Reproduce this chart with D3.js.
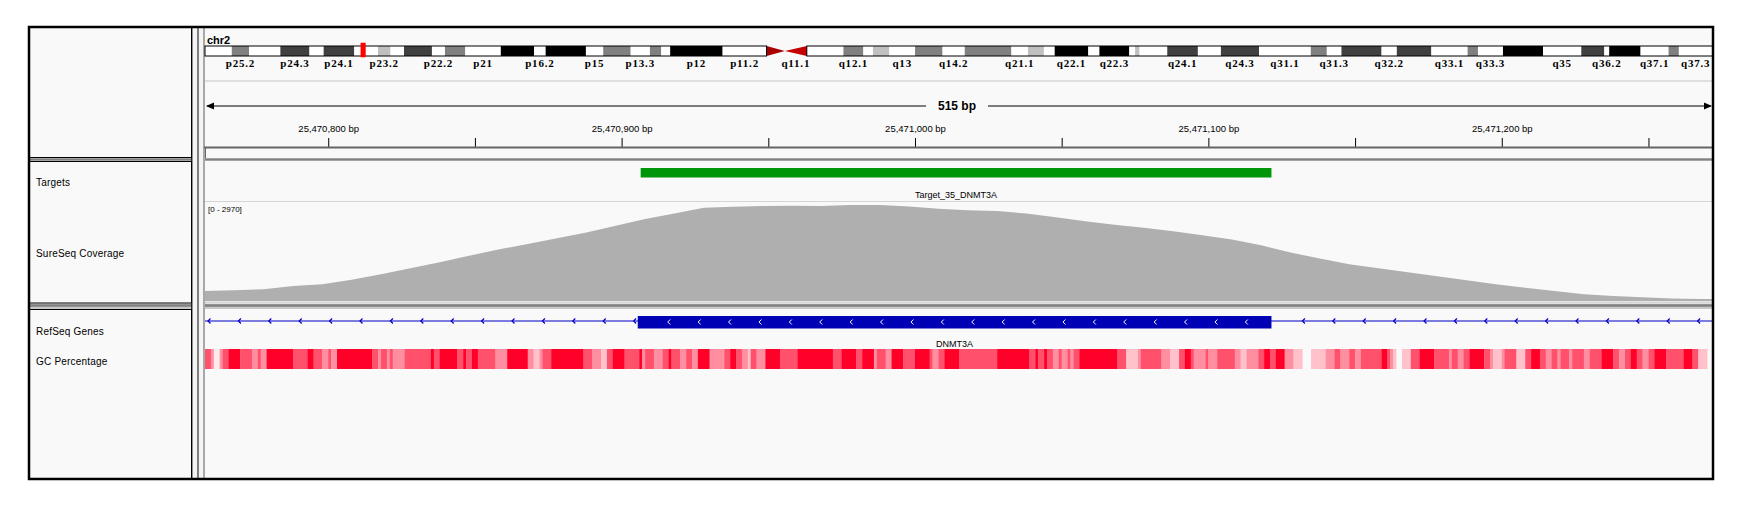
<!DOCTYPE html>
<html>
<head>
<meta charset="utf-8">
<script src="https://cdn.jsdelivr.net/npm/d3@7"></script>
<style>
body { margin: 0; background: #fff; }
text { font-family: "Liberation Sans", Arial, sans-serif; }
</style>
</head>
<body>
<svg id="igv" width="1750" height="514"></svg>
<script>
// ---- data ----
var chromName = "chr2";
var chromLenMb = 243.2;
var bandNames = ["p25.3","p25.2","p25.1","p24.3","p24.2","p24.1","p23.3","p23.2","p23.1","p22.3","p22.2","p22.1","p21","p16.3","p16.2","p16.1","p15","p14","p13.3","p13.2","p13.1","p12","p11.2","p11.1",
                 "q11.1","q11.2","q12.1","q12.2","q12.3","q13","q14.1","q14.2","q14.3","q21.1","q21.2","q21.3","q22.1","q22.2","q22.3","q23.1","q23.2","q23.3","q24.1","q24.2","q24.3","q31.1","q31.2","q31.3",
                 "q32.1","q32.2","q32.3","q33.1","q33.2","q33.3","q34","q35","q36.1","q36.2","q36.3","q37.1","q37.2","q37.3"];
var bandStarts = [0,4.32,7.11,12.16,16.85,19.14,24.08,27.9,29.93,32.1,36.61,38.71,41.98,47.72,53.09,54.95,61.45,64.24,68.67,71.77,73.59,75.04,83.5,90.59,
                  93.54,97.08,102.99,106.2,107.75,110.4,114.54,118.98,122.56,130.09,132.75,135.33,137.07,142.49,144.28,149.1,150.04,150.76,155.23,160.17,163.88,170.04,178.38,180.97,
                  183.33,189.8,192.26,197.83,203.68,205.35,209.38,215.84,222.02,225.73,226.52,231.58,236.1,237.76];
var bandStains = ["gneg","gpos50","gneg","gpos75","gneg","gpos75","gneg","gpos25","gneg","gpos75","gneg","gpos50","gneg","gpos100","gneg","gpos100","gneg","gpos50","gneg","gpos50","gneg","gpos100","gneg","acen",
                  "acen","gneg","gpos50","gneg","gpos25","gneg","gpos50","gneg","gpos50","gneg","gpos25","gneg","gpos100","gneg","gpos100","gneg","gpos25","gneg","gpos75","gneg","gpos75","gneg","gpos50","gneg",
                  "gpos75","gneg","gpos75","gneg","gpos50","gneg","gpos100","gneg","gpos75","gneg","gpos100","gneg","gpos50","gneg"];
var bandLabels = ["p25.2","p24.3","p24.1","p23.2","p22.2","p21","p16.2","p15","p13.3","p12","p11.2","q11.1","q12.1","q13","q14.2","q21.1","q22.1","q22.3",
                  "q24.1","q24.3","q31.1","q31.3","q32.2","q33.1","q33.3","q35","q36.2","q37.1","q37.3"];

var viewStart = 25470758, viewEnd = 25471272;
var spanLabel = "515 bp";
var rulerTicks = [25470800,25470850,25470900,25470950,25471000,25471050,25471100,25471150,25471200,25471250];

var trackNames = ["Targets", "SureSeq Coverage", "RefSeq Genes", "GC Percentage"];
var targetName = "Target_35_DNMT3A", targetStart = 25470906.5, targetEnd = 25471121.5;
var geneName = "DNMT3A", exonStart = 25470905.5, exonEnd = 25471121.5;

var covMax = 2970;
var covStep = 10;
var covValues = [303,327,355,455,509,646,812,991,1176,1370,1558,1728,1900,2073,2279,2485,2655,2828,2858,2876,2885,2882,2910,2910,2861,2792,2752,2731,2649,2540,
                 2416,2310,2219,2113,1994,1864,1688,1470,1285,1115,994,870,749,627,509,403,306,203,155,112,79,58];

// [offset from viewStart (bp), GC %], null = no data
var gcSegments = [[0,62],[2,50],[3,32],[5,50],[6,62],[8,78],[12,62],[16,50],[18,62],[19,50],[21,78],[30,62],[35,78],[37,62],[40,50],[42,62],[43,50],[45,78],
  [57,62],[59,50],[60,62],[62,50],[63,62],[64,50],[68,62],[77,78],[78,62],[80,78],[86,62],[88,78],[89,62],[91,78],[93,62],[99,50],[103,78],[110,50],[112,40],
  [114,50],[115,62],[118,78],[129,62],[132,50],[135,40],[137,62],[139,78],[143,62],[148,78],[149,50],[150,62],[153,50],[156,62],[158,78],[159,62],[162,50],
  [164,62],[166,50],[168,78],[172,50],[177,62],[179,78],[181,62],[183,50],[185,40],[186,62],[188,50],[191,78],[196,62],[202,78],[214,62],[217,78],[222,62],
  [224,78],[228,50],[229,62],[232,50],[234,78],[238,62],[242,78],[247,62],[248,50],[250,62],[252,78],[257,62],[270,78],[281,62],[283,78],[284,62],[286,78],
  [287,62],[289,50],[291,62],[292,50],[294,62],[295,50],[296,62],[298,78],[311,62],[314,40],[318,50],[319,62],[326,50],[329,40],[332,62],[334,78],[336,62],
  [337,50],[341,62],[342,50],[345,62],[351,50],[353,40],[355,50],[359,62],[361,78],[363,62],[365,78],[368,50],[371,40],[374,null],[377,40],[382,50],[385,62],
  [387,50],[390,62],[392,50],[394,62],[401,78],[403,62],[404,50],[405,40],[406,null],[408,40],[411,62],[414,78],[419,62],[424,50],[425,62],[427,50],[429,62],
  [431,78],[436,62],[438,50],[439,40],[442,50],[443,62],[447,40],[450,62],[452,78],[455,62],[457,50],[459,62],[461,50],[462,62],[465,50],[466,62],[470,50],
  [472,62],[476,78],[480,62],[482,50],[484,62],[486,78],[488,62],[490,50],[492,62],[494,78],[498,62],[504,78],[507,62],[509,40],[512,null]];

// ---- layout ----
var svg = d3.select("#igv");
var outer = {left: 29, top: 27, right: 1713, bottom: 479},
    nameRight = 192, dataLeft = 205, dataRight = 1713;
var panels = [{top: 27, bottom: 158}, {top: 161, bottom: 303.5}, {top: 309, bottom: 479}];

svg.append("rect").attr("x", outer.left).attr("y", outer.top)
    .attr("width", outer.right - outer.left).attr("height", outer.bottom - outer.top)
    .attr("fill", "#f9f9f9");

// separators between panels
svg.append("rect").attr("x", outer.left).attr("y", 158).attr("width", outer.right - outer.left).attr("height", 3).attr("fill", "#c8c8c8");
svg.append("rect").attr("x", outer.left).attr("y", 303.5).attr("width", outer.right - outer.left).attr("height", 5.5).attr("fill", "#c8c8c8");
svg.append("line").attr("x1", outer.left).attr("x2", outer.right).attr("y1", 159.5).attr("y2", 159.5).attr("stroke", "#808080").attr("stroke-width", 2);
svg.append("line").attr("x1", outer.left).attr("x2", outer.right).attr("y1", 305.5).attr("y2", 305.5).attr("stroke", "#808080").attr("stroke-width", 2.5);
svg.append("line").attr("x1", dataLeft).attr("x2", outer.right).attr("y1", 302.3).attr("y2", 302.3).attr("stroke", "#d4d4d4").attr("stroke-width", 1.5);

// name panel boxes
svg.selectAll(".namebox").data(panels).enter().append("rect")
    .attr("class", "namebox")
    .attr("x", outer.left + 0.5).attr("y", function (d) { return d.top + 0.5; })
    .attr("width", nameRight - outer.left - 1).attr("height", function (d) { return d.bottom - d.top - 1; })
    .attr("fill", "#f9f9f9").attr("stroke", "#000").attr("stroke-width", 1);

// vertical separators
svg.append("rect").attr("x", nameRight).attr("y", outer.top).attr("width", dataLeft - nameRight - 2).attr("height", outer.bottom - outer.top).attr("fill", "#f4f4f4");
svg.append("line").attr("x1", 198).attr("x2", 198).attr("y1", outer.top).attr("y2", outer.bottom).attr("stroke", "#303030").attr("stroke-width", 1.2);
svg.append("line").attr("x1", 191.8).attr("x2", 191.8).attr("y1", outer.top).attr("y2", outer.bottom).attr("stroke", "#000").attr("stroke-width", 1.2);
svg.append("line").attr("x1", 204).attr("x2", 204).attr("y1", outer.top).attr("y2", outer.bottom).attr("stroke", "#a8a8a8").attr("stroke-width", 2);

// track names
var nameY = [182, 253, 331, 361];
svg.selectAll(".tname").data(trackNames).enter().append("text")
    .attr("class", "tname")
    .attr("x", 36).attr("y", function (d, i) { return nameY[i]; })
    .attr("dy", "0.35em").attr("font-size", "10px").attr("letter-spacing", "0.2px").attr("fill", "#000")
    .text(function (d) { return d; });

// ---- ideogram ----
var cx = d3.scaleLinear().domain([0, chromLenMb]).range([dataLeft, 1712.6]);
var stainColor = {gneg: "#ffffff", gpos25: "#c0c0c0", gpos50: "#808080", gpos75: "#404040", gpos100: "#000000", acen: "#b00000"};
var bands = bandNames.map(function (n, i) {
    return {name: n, start: bandStarts[i], end: i < bandStarts.length - 1 ? bandStarts[i + 1] : chromLenMb, stain: bandStains[i]};
});
var ideoTop = 46, ideoBot = 56;

svg.append("text").attr("x", 207).attr("y", 40).attr("dy", "0.35em")
    .attr("font-size", "11px").attr("font-weight", "bold").text(chromName);

var ig = svg.append("g");
ig.selectAll(".band").data(bands.filter(function (d) { return d.stain !== "acen"; }))
    .enter().append("rect")
    .attr("class", "band")
    .attr("x", function (d) { return cx(d.start); })
    .attr("y", ideoTop)
    .attr("width", function (d) { return cx(d.end) - cx(d.start); })
    .attr("height", ideoBot - ideoTop)
    .attr("fill", function (d) { return stainColor[d.stain]; });

var acen = bands.filter(function (d) { return d.stain === "acen"; });
ig.selectAll(".acen").data(acen).enter().append("polygon")
    .attr("points", function (d) {
        var x0 = cx(d.start), x1 = cx(d.end), ym = (ideoTop + ideoBot) / 2;
        if (d.name[0] === "p") return [[x0, ideoTop], [x0, ideoBot], [x1, ym]].join(" ");
        return [[x1, ideoTop], [x1, ideoBot], [x0, ym]].join(" ");
    })
    .attr("fill", function (d, i) { return i === 0 ? "#a80000" : "#c40000"; });

var pEnd = cx(acen[0].start), qStart = cx(acen[1].end);
ig.append("rect").attr("x", dataLeft).attr("y", ideoTop).attr("width", pEnd - dataLeft).attr("height", ideoBot - ideoTop)
    .attr("fill", "none").attr("stroke", "#000").attr("stroke-width", 1);
ig.append("rect").attr("x", qStart).attr("y", ideoTop).attr("width", cx(chromLenMb) - qStart).attr("height", ideoBot - ideoTop)
    .attr("fill", "none").attr("stroke", "#000").attr("stroke-width", 1);

ig.selectAll(".blabel").data(bands.filter(function (d) { return bandLabels.indexOf(d.name) >= 0; }))
    .enter().append("text")
    .attr("class", "blabel")
    .attr("x", function (d) { return (cx(d.start) + cx(d.end)) / 2; })
    .attr("y", 63).attr("dy", "0.35em")
    .attr("text-anchor", "middle")
    .style("font-family", "'Liberation Serif', serif")
    .attr("font-size", "11px").attr("font-weight", "bold").attr("letter-spacing", "0.8px")
    .text(function (d) { return d.name; });

// current view marker
var viewMb = (viewStart + viewEnd) / 2 / 1e6;
ig.append("rect").attr("x", cx(viewMb) - 2).attr("y", 43).attr("width", 4.5).attr("height", 14)
    .attr("fill", "#ff0000").attr("stroke", "#ff0000").attr("stroke-width", 0.5);

svg.append("line").attr("x1", dataLeft).attr("x2", dataRight).attr("y1", 81).attr("y2", 81)
    .attr("stroke", "#d6d6d6").attr("stroke-width", 1.5);

// ---- ruler ----
var x = d3.scaleLinear().domain([viewStart, viewEnd]).range([dataLeft, dataRight]);
var rulerY = 106;
var span = svg.append("text").attr("x", (dataLeft + dataRight) / 2 - 2).attr("y", rulerY).attr("dy", "0.35em")
    .attr("text-anchor", "middle").attr("font-size", "12px").attr("font-weight", "bold").text(spanLabel);
var half = span.node().getComputedTextLength() / 2 + 12, mid = (dataLeft + dataRight) / 2 - 2;
svg.append("line").attr("x1", dataLeft + 2).attr("x2", mid - half).attr("y1", rulerY).attr("y2", rulerY).attr("stroke", "#000");
svg.append("line").attr("x1", mid + half).attr("x2", dataRight - 2).attr("y1", rulerY).attr("y2", rulerY).attr("stroke", "#000");
svg.append("polygon").attr("points", [[dataLeft + 1, rulerY], [dataLeft + 9, rulerY - 3.5], [dataLeft + 9, rulerY + 3.5]].join(" ")).attr("fill", "#000");
svg.append("polygon").attr("points", [[dataRight - 1, rulerY], [dataRight - 9, rulerY - 3.5], [dataRight - 9, rulerY + 3.5]].join(" ")).attr("fill", "#000");

var axis = d3.axisTop(x).tickValues(rulerTicks).tickSize(9).tickPadding(6)
    .tickFormat(function (d) { return d % 100 === 0 ? d3.format(",")(d) + " bp" : ""; });
var ag = svg.append("g").attr("transform", "translate(0,147)").call(axis);
ag.select(".domain").remove();
ag.selectAll("line").attr("stroke", "#000");
ag.selectAll("text").attr("font-size", "9.5px").attr("font-family", "'Liberation Sans', Arial, sans-serif").attr("fill", "#000");

svg.append("line").attr("x1", dataLeft - 1).attr("x2", dataRight).attr("y1", 147.5).attr("y2", 147.5).attr("stroke", "#666").attr("stroke-width", 1.8);
svg.append("line").attr("x1", dataLeft + 0.5).attr("x2", dataLeft + 0.5).attr("y1", 147.5).attr("y2", 158).attr("stroke", "#666").attr("stroke-width", 1);

// ---- targets ----
svg.append("rect").attr("x", x(targetStart)).attr("y", 168).attr("width", x(targetEnd) - x(targetStart)).attr("height", 9.5)
    .attr("fill", "#00960a");
svg.append("text").attr("x", (x(targetStart) + x(targetEnd)) / 2).attr("y", 195).attr("dy", "0.35em")
    .attr("text-anchor", "middle").attr("font-size", "9px").text(targetName);

// ---- coverage ----
svg.append("line").attr("x1", dataLeft).attr("x2", dataRight).attr("y1", 201.5).attr("y2", 201.5).attr("stroke", "#d4d4d4").attr("stroke-width", 1.2);
var yCov = d3.scaleLinear().domain([0, covMax]).range([301, 203]);
var covPoints = covValues.map(function (v, i) { return {pos: viewStart + i * covStep, v: v}; });
covPoints.push({pos: viewEnd, v: covValues[covValues.length - 1]});
var area = d3.area()
    .x(function (d) { return x(d.pos); })
    .y0(yCov(0))
    .y1(function (d) { return yCov(d.v); });
svg.append("path").datum(covPoints).attr("d", area).attr("fill", "#afafaf");
svg.append("text").attr("x", 208).attr("y", 209).attr("dy", "0.35em").attr("font-size", "8px")
    .text("[0 - " + covMax + "]");

// ---- gene ----
var geneY = 321;
svg.append("line").attr("x1", dataLeft).attr("x2", dataRight).attr("y1", geneY).attr("y2", geneY).attr("stroke", "#0000c8").attr("stroke-width", 1.2);
var chevL = d3.range(dataLeft + 3, dataRight, 30.4).filter(function (p) { return p < x(exonStart) - 4 || p > x(exonEnd) + 4; });
svg.selectAll(".chev").data(chevL).enter().append("path")
    .attr("d", function (p) { return "M" + (p + 2.5) + "," + (geneY - 2.5) + "L" + p + "," + geneY + "L" + (p + 2.5) + "," + (geneY + 2.5); })
    .attr("fill", "none").attr("stroke", "#0000c8").attr("stroke-width", 1.2);
svg.append("rect").attr("x", x(exonStart)).attr("y", geneY - 5).attr("width", x(exonEnd) - x(exonStart)).attr("height", 12.5)
    .attr("fill", "#0000b4");
var chevIn = d3.range(x(exonStart) + 30, x(exonEnd) - 4, 30.4);
svg.selectAll(".chevin").data(chevIn).enter().append("path")
    .attr("d", function (p) { return "M" + (p + 2.5) + "," + (geneY - 1.5) + "L" + p + "," + (geneY + 1) + "L" + (p + 2.5) + "," + (geneY + 3.5); })
    .attr("fill", "none").attr("stroke", "#fff").attr("stroke-width", 1);
svg.append("text").attr("x", (x(exonStart) + x(exonEnd)) / 2).attr("y", 343.5).attr("dy", "0.35em")
    .attr("text-anchor", "middle").attr("font-size", "9px").text(geneName);

// ---- GC percentage ----
var gcColor = d3.scaleLinear().domain([30, 78]).range(["#fff4f5", "#ff0028"]).clamp(true);
var gcCells = gcSegments.slice(0, -1).map(function (s, i) {
    return {start: viewStart + s[0], end: viewStart + gcSegments[i + 1][0], pct: s[1]};
}).filter(function (d) { return d.pct !== null; });
svg.selectAll(".gc").data(gcCells).enter().append("rect")
    .attr("class", "gc")
    .attr("x", function (d) { return x(d.start); })
    .attr("y", 349)
    .attr("width", function (d) { return x(d.end) - x(d.start) + 0.3; })
    .attr("height", 20)
    .attr("fill", function (d) { return gcColor(d.pct); });

// outer frame
svg.append("rect").attr("x", outer.left).attr("y", outer.top)
    .attr("width", outer.right - outer.left).attr("height", outer.bottom - outer.top)
    .attr("fill", "none").attr("stroke", "#000").attr("stroke-width", 2.5);
</script>
</body>
</html>
